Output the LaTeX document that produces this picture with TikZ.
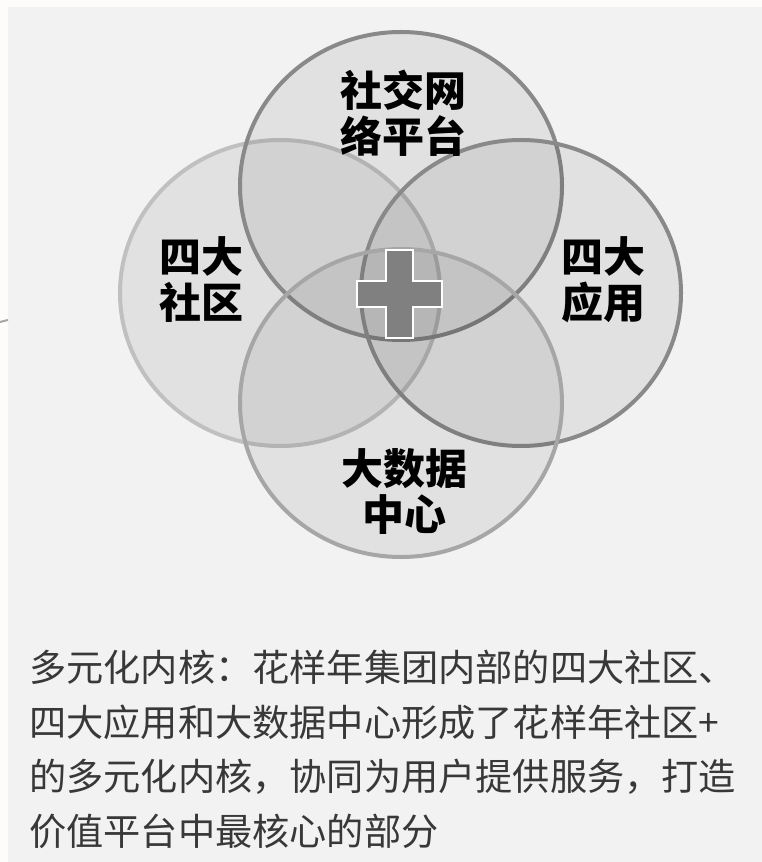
\documentclass[tikz,border=0pt]{standalone}
\usepackage{fontspec}
\setmainfont{Noto Sans CJK SC}
\definecolor{outerbg}{HTML}{FDFCFA}
\definecolor{panelbg}{HTML}{F2F2F2}
\definecolor{strokeA}{HTML}{898989}
\definecolor{strokeB}{HTML}{C0C0C0}
\definecolor{strokeC}{HTML}{A6A6A6}
\definecolor{crossfill}{HTML}{808080}
\definecolor{bodytext}{HTML}{383838}
\tikzset{
  venn/.style={line width=3pt, fill=black, fill opacity=0.065},
  vlabel/.style={text=black, align=center, inner sep=0pt,
    font=\bfseries\fontsize{31.5}{34.5}\selectfont},
  bodyline/.style={text=bodytext, anchor=west, inner sep=0pt,
    font=\fontsize{27.9}{30}\selectfont},
}
\begin{document}
\begin{tikzpicture}[x=0.75pt,y=-0.75pt]
\useasboundingbox (0,0) rectangle (762,862);
\fill[outerbg] (0,0) rectangle (762,862);
\fill[panelbg] (8,7) rectangle (762,862);
\draw[strokeC, line width=1.5pt] (0,322) -- (8,320);
% circles
\draw[venn, draw=strokeB] (280,293) ellipse [x radius=160, y radius=153];
\draw[venn, draw=strokeA] (401,186) ellipse [x radius=161, y radius=154];
\draw[venn, draw=strokeA] (521,293) ellipse [x radius=160, y radius=153];
\draw[venn, draw=strokeC] (401,403) ellipse [x radius=161, y radius=154];
% cross
\filldraw[fill=crossfill, draw=white, line width=1.2pt]
  (386,250) -- (413,250) -- (413,281) -- (442,281) -- (442,307) -- (413,307)
  -- (413,338) -- (386,338) -- (386,307) -- (357,307) -- (357,281) -- (386,281) -- cycle;
% labels
\node[vlabel] (social) at (403,113) {社交网\\络平台};
\node[vlabel] (comm) at (201,280) {四大\\社区};
\node[vlabel] (apps) at (603,280) {四大\\应用};
\node[vlabel] (data) at (404,492) {大数据\\中心};
% body text
\node[bodyline] (l1) at (29,667) {多元化内核：花样年集团内部的四大社区、};
\node[bodyline] (l2) at (29,722) {四大应用和大数据中心形成了花样年社区+};
\node[bodyline] (l3) at (29,777) {的多元化内核，协同为用户提供服务，打造};
\node[bodyline] (l4) at (29,831) {价值平台中最核心的部分};
\end{tikzpicture}
\end{document}
